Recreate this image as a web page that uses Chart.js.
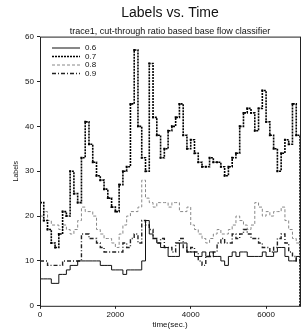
<!DOCTYPE html>
<html>
<head>
<meta charset="utf-8">
<script src="https://cdn.jsdelivr.net/npm/chart.js@4/dist/chart.umd.min.js"></script>
<style>
  html, body { margin: 0; padding: 0; background: #fff; }
  #wrap { width: 304px; height: 331px; }
</style>
</head>
<body>
<div id="wrap"><canvas id="labelsChart" width="304" height="331"></canvas></div>
<script>
// time axis samples (sec.)
const times = [0, 100, 200, 300, 400, 500, 600, 700, 800, 900,
    1000, 1100, 1200, 1300, 1400, 1500, 1600, 1700, 1800, 1900,
    2000, 2100, 2200, 2300, 2400, 2500, 2600, 2700, 2800, 2900,
    3000, 3100, 3200, 3300, 3400, 3500, 3600, 3700, 3800, 3900,
    4000, 4100, 4200, 4300, 4400, 4500, 4600, 4700, 4800, 4900,
    5000, 5100, 5200, 5300, 5400, 5500, 5600, 5700, 5800, 5900,
    6000, 6100, 6200, 6300, 6400, 6500, 6600, 6700, 6800, 6900];

const series06 = [6, 6, 6, 5, 5, 7, 7, 8, 9, 9,
    10, 10, 10, 10, 10, 10, 9, 9, 9, 8,
    8, 8, 7, 8, 8, 8, 8, 10, 19, 16,
    15, 14, 13, 13, 11, 11, 11, 14, 14, 12,
    12, 11, 11, 12, 11, 12, 11, 11, 10, 9,
    11, 12, 11, 12, 12, 11, 11, 11, 11, 12,
    11, 11, 12, 13, 13, 11, 10, 10, 11, 11];

const series07 = [23, 19, 17, 14, 13, 16, 21, 20, 30, 25,
    23, 33, 41, 36, 32, 29, 28, 26, 24, 22,
    21, 27, 30, 31, 45, 57, 40, 33, 30, 54,
    42, 38, 33, 35, 39, 40, 42, 45, 38, 35,
    37, 34, 32, 31, 31, 33, 32, 32, 31, 29,
    31, 33, 34, 40, 43, 44, 43, 39, 44, 48,
    41, 38, 35, 30, 34, 37, 36, 45, 38, 0];

const series08 = [20, 21, 19, 18, 18, 17, 18, 17, 16, 17,
    19, 22, 21, 21, 20, 17, 16, 15, 15, 14,
    13, 16, 18, 20, 21, 21, 22, 28, 24, 23,
    22, 23, 23, 23, 22, 23, 23, 21, 21, 22,
    18, 17, 16, 15, 14, 15, 16, 17, 16, 16,
    17, 18, 20, 19, 18, 17, 18, 23, 22, 20,
    21, 20, 21, 21, 22, 19, 17, 15, 14, 14];

const series09 = [10, 10, 9, 9, 9, 9, 10, 10, 10, 10,
    10, 16, 16, 15, 15, 14, 13, 12, 12, 12,
    12, 12, 14, 13, 15, 16, 14, 19, 18, 17,
    15, 14, 15, 13, 13, 12, 14, 15, 13, 12,
    13, 12, 10, 9, 11, 11, 12, 14, 15, 14,
    14, 16, 15, 16, 17, 16, 15, 15, 14, 13,
    13, 12, 13, 15, 16, 14, 12, 11, 10, 10];

const seriesLabels = ['0.6', '0.7', '0.8', '0.9'];
const yTicks = [0, 10, 20, 30, 40, 50, 60];
const xTicks = [0, 2000, 4000, 6000];

const FONT = '"Liberation Sans", Arial, sans-serif';

function toPoints(values) {
    return times.map((t, i) => ({ x: t, y: values[i] }));
}

// box around the plot plus a small legend inside the top-left corner
const frameAndLegend = {
    id: 'frameAndLegend',
    afterDraw(chart) {
        const { ctx, chartArea } = chart;
        ctx.save();
        ctx.strokeStyle = '#222';
        ctx.lineWidth = 1;
        ctx.strokeRect(chartArea.left + 0.5, chartArea.top + 0.5,
            chartArea.right - chartArea.left, chartArea.bottom - chartArea.top);

        ctx.font = '8px ' + FONT;
        ctx.textBaseline = 'middle';
        chart.data.datasets.forEach((ds, i) => {
            const y = 48 + i * 8.5;
            ctx.strokeStyle = ds.borderColor;
            ctx.lineWidth = ds.borderWidth;
            ctx.setLineDash(ds.borderDash || []);
            ctx.beginPath();
            ctx.moveTo(52, y);
            ctx.lineTo(80, y);
            ctx.stroke();
            ctx.setLineDash([]);
            ctx.fillStyle = '#111';
            ctx.fillText(ds.label, 85, y);
        });
        ctx.restore();
    }
};

const ctx = document.getElementById('labelsChart').getContext('2d');
new Chart(ctx, {
    type: 'line',
    data: {
        datasets: [
            {
                label: seriesLabels[0],
                data: toPoints(series06),
                stepped: true,
                borderColor: '#111',
                borderWidth: 1,
                pointRadius: 0
            },
            {
                label: seriesLabels[1],
                data: toPoints(series07),
                stepped: true,
                borderColor: '#000',
                borderWidth: 1.6,
                borderDash: [2, 1],
                pointStyle: 'rect',
                pointRadius: 1.4,
                pointBackgroundColor: '#000',
                pointBorderWidth: 0
            },
            {
                label: seriesLabels[2],
                data: toPoints(series08),
                stepped: true,
                borderColor: '#888',
                borderWidth: 1,
                borderDash: [3, 2],
                pointRadius: 0
            },
            {
                label: seriesLabels[3],
                data: toPoints(series09),
                stepped: true,
                borderColor: '#222',
                borderWidth: 1.4,
                borderDash: [4, 2, 1, 2],
                pointRadius: 0
            }
        ]
    },
    options: {
        responsive: false,
        animation: false,
        devicePixelRatio: 1,
        layout: {
            padding: { left: 12, right: 1, top: 0, bottom: 1 }
        },
        plugins: {
            legend: { display: false },
            tooltip: { enabled: false },
            title: {
                display: true,
                fullSize: false,
                text: 'Labels vs. Time',
                color: '#111',
                font: { family: FONT, size: 14, weight: 'normal' },
                padding: { top: 5, bottom: 4 }
            },
            subtitle: {
                display: true,
                fullSize: false,
                text: 'trace1, cut-through ratio based base flow classifier',
                color: '#111',
                font: { family: FONT, size: 9, weight: 'normal' },
                padding: { top: 0, bottom: 0 }
            }
        },
        scales: {
            x: {
                type: 'linear',
                min: 0,
                max: 6900,
                afterBuildTicks(scale) {
                    scale.ticks = xTicks.map(v => ({ value: v }));
                },
                ticks: {
                    color: '#111',
                    font: { family: FONT, size: 8 },
                    padding: 1,
                    maxRotation: 0,
                    callback: v => String(v)
                },
                grid: { display: true, drawOnChartArea: false, tickLength: 3, color: '#222' },
                border: { display: false },
                title: {
                    display: true,
                    text: 'time(sec.)',
                    color: '#111',
                    font: { family: FONT, size: 8 },
                    padding: { top: 0, bottom: 0 }
                }
            },
            y: {
                min: 0,
                max: 60,
                afterBuildTicks(scale) {
                    scale.ticks = yTicks.map(v => ({ value: v }));
                },
                afterFit(scale) {
                    scale.width = 28;
                },
                ticks: {
                    color: '#111',
                    font: { family: FONT, size: 8 },
                    padding: 3
                },
                grid: { display: true, drawOnChartArea: false, tickLength: 3, color: '#222' },
                border: { display: false },
                title: {
                    display: true,
                    text: 'Labels',
                    color: '#111',
                    font: { family: FONT, size: 7 },
                    padding: { top: 0, bottom: 0 }
                }
            }
        }
    },
    plugins: [frameAndLegend]
});
</script>
</body>
</html>
